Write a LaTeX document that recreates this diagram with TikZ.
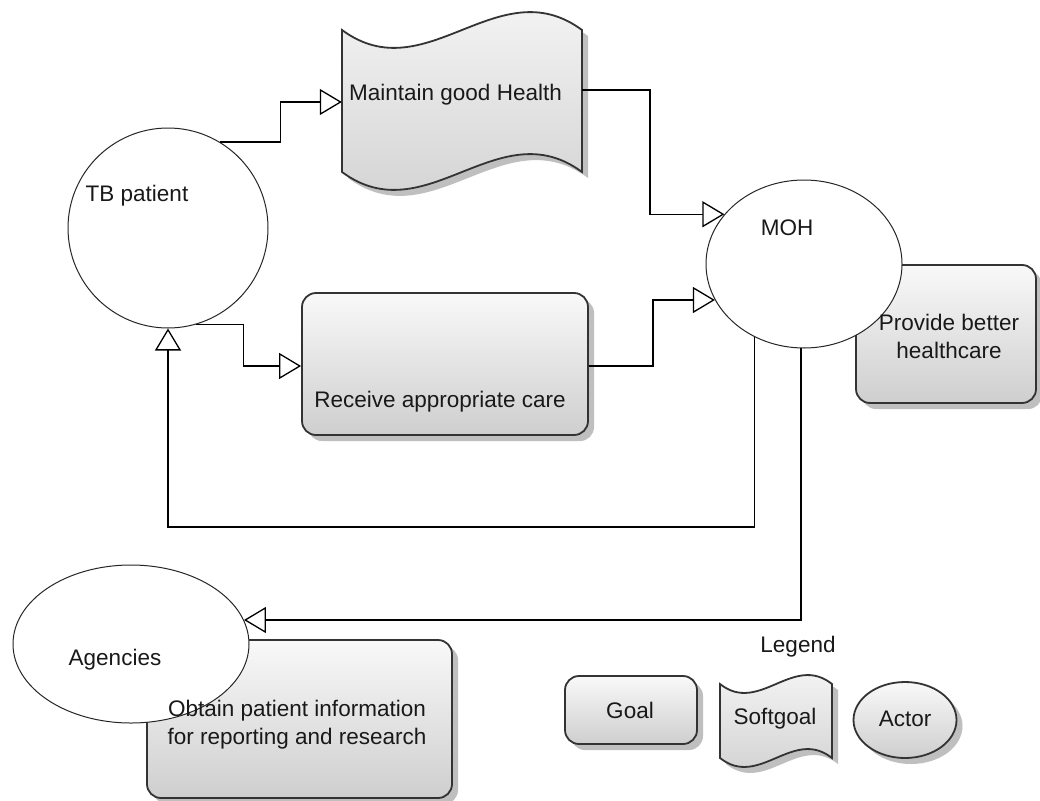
\documentclass[tikz,border=0pt]{standalone}
\usepackage{fontspec}
\setmainfont{Liberation Sans}
\usetikzlibrary{arrows.meta,shapes.geometric,shadows}
\tikzset{
  shapefill/.style={top color=gray!5, bottom color=gray!38,
    general shadow={fill=gray!50, shadow xshift=6pt, shadow yshift=-6pt}},
  goalbox/.style={rectangle, rounded corners=14pt, draw=black!80, line width=1.8pt,
    shapefill, inner sep=0pt},
  sgstyle/.style={draw=black!80, line width=1.8pt, shapefill},
  actor/.style={ellipse, draw=black!85, line width=1pt, fill=white, inner sep=0pt},
  legactor/.style={ellipse, draw=black!80, line width=1.8pt, shapefill, inner sep=0pt},
  link/.style={draw=black, line width=1.3pt, -{Triangle[length=22pt,width=26pt,fill=white]}},
  lbl/.style={font=\fontsize{22.5}{28}\selectfont, text=black!90, inner sep=0pt, align=center},
}
\newcommand\softgoalshape[6]{% name x1 y1 x2 y2 c
  \pgfmathsetmacro\sgA{#2+0.35*(#4-#2)}%
  \pgfmathsetmacro\sgB{#2+0.65*(#4-#2)}%
  \path[sgstyle] (#2,#3) .. controls (\sgA,#3+#6) and (\sgB,#3-#6) .. (#4,#3)
     -- (#4,#5) .. controls (\sgB,#5-#6) and (\sgA,#5+#6) .. (#2,#5) -- cycle;
  \node[inner sep=0pt, minimum width=#4-#2, minimum height=#5-#3] (#1)
     at ({(#2+#4)/2},{(#3+#5)/2}) {};
}
\begin{document}
\begin{tikzpicture}[x=1pt,y=-1pt]
\fill[white] (0,0) rectangle (1040,800);
\useasboundingbox (0,0) rectangle (1040,800);

% goals
\node[goalbox, minimum width=180, minimum height=138] (pbh) at (946,334) {};
\node[goalbox, minimum width=286, minimum height=142] (rac) at (445,364) {};
\node[goalbox, minimum width=305, minimum height=158] (opi) at (299.5,719) {};
\node[goalbox, minimum width=132, minimum height=68] (lgoal) at (631,710) {};

% softgoals
\softgoalshape{mgh}{342}{30}{582}{172}{62}
\softgoalshape{lsoft}{720}{684}{832}{758}{31}

% actors
\node[actor, minimum width=200, minimum height=200] (tb) at (168,228) {};
\node[actor, minimum width=196, minimum height=168] (moh) at (804,264) {};
\node[actor, minimum width=236, minimum height=158] (ag) at (131,644) {};
\node[legactor, minimum width=103, minimum height=76] (lactor) at (905,720) {};

% links
\draw[link] (tb.59) -- ++(61,0) |- (mgh.west |- 0,102);
\draw[link] (tb.-74) -- ++(48,0) |- (rac.west |- 0,366);
\draw[link] (mgh.east |- 0,90) -- (650,90) |- (moh.148);
\draw[link] (rac.east |- 0,366) -- (653,366) |- (moh.202);
\draw[link] (moh.236) -- (moh.236 |- 0,527) -| (tb.south);
\draw[link] (moh.268) |- (ag.12);

% texts
\node[lbl] (ttb) at (137,196) {TB patient};
\node[lbl] (tmoh) at (787,228) {MOH};
\node[lbl, anchor=west] (tmgh) at (349,95) {Maintain good Health};
\node[lbl] (tpbh) at (949,336) {Provide better\\healthcare};
\node[lbl] (trac) at (440,402) {Receive appropriate care};
\node[lbl] (tag) at (115,660) {Agencies};
\node[lbl] (topi) at (297,725) {Obtain patient information\\for reporting and research};
\node[lbl] (tleg) at (798,647) {Legend};
\node[lbl] (tgoal) at (630,710) {Goal};
\node[lbl] (tsoft) at (775,719) {Softgoal};
\node[lbl] (tactor) at (905,719) {Actor};
\end{tikzpicture}
\end{document}
